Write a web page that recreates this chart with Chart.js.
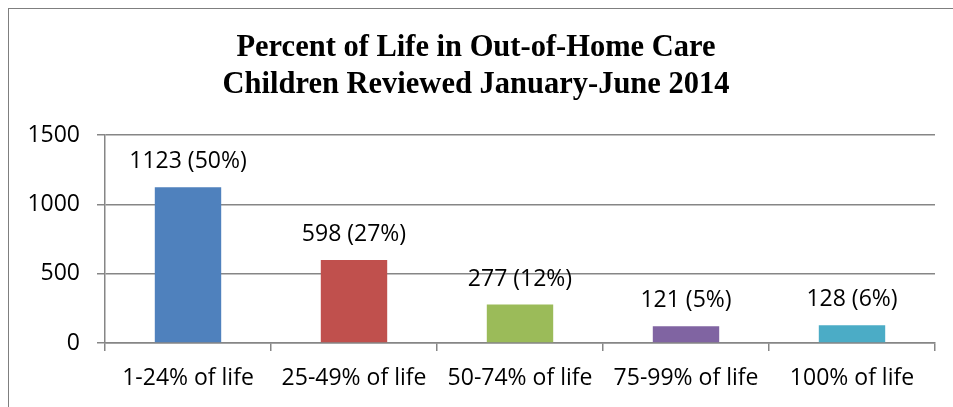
<!DOCTYPE html>
<html>
<head>
<meta charset="utf-8">
<script src="https://cdn.jsdelivr.net/npm/chart.js@4"></script>
<style>
  html, body { margin: 0; padding: 0; background: #fff; overflow: hidden; }
  #wrap { position: relative; width: 953px; height: 407px; }
  #frame { position: absolute; left: 8px; top: 8px; width: 2000px; height: 2000px;
           border-left: 1px solid #7f7f7f; border-top: 1px solid #7f7f7f; pointer-events: none; }
  canvas { position: absolute; left: 0; top: 0; }
</style>
</head>
<body>
<div id="wrap">
  <canvas id="c" width="953" height="407"></canvas>
  <div id="frame"></div>
</div>
<script>
const titleLines = ["Percent of Life in Out-of-Home Care", "Children Reviewed January-June 2014"];
const categories = ["1-24% of life", "25-49% of life", "50-74% of life", "75-99% of life", "100% of life"];
const counts = [1123, 598, 277, 121, 128];
const percents = [50, 27, 12, 5, 6];
const barColors = ["#4F81BD", "#C0504D", "#9BBB59", "#8064A2", "#4BACC6"];
const yTicks = [0, 500, 1000, 1500];

const labelFont = "'Open Sans', sans-serif";
const gray = "#868686";

const dataLabels = {
  id: 'dataLabels',
  afterDatasetsDraw(chart) {
    const ctx = chart.ctx;
    const meta = chart.getDatasetMeta(0);
    ctx.save();
    ctx.font = "23px " + labelFont;
    ctx.fillStyle = "#000";
    ctx.textAlign = "center";
    ctx.textBaseline = "alphabetic";
    meta.data.forEach((bar, i) => {
      ctx.fillText(counts[i] + " (" + percents[i] + "%)", bar.x, bar.y - 19);
    });
    ctx.restore();
  }
};

new Chart(document.getElementById('c'), {
  type: 'bar',
  data: {
    labels: categories,
    datasets: [{
      data: counts,
      backgroundColor: barColors,
      borderWidth: 0,
      categoryPercentage: 1.0,
      barPercentage: 0.4
    }]
  },
  options: {
    responsive: false,
    animation: false,
    devicePixelRatio: 1,
    layout: { padding: { left: 17, right: 18, top: 0, bottom: 0 } },
    plugins: {
      legend: { display: false },
      tooltip: { enabled: false },
      title: {
        display: true,
        text: titleLines,
        color: "#000",
        font: { family: "'Liberation Serif', 'Times New Roman', serif", size: 30.5, weight: 'bold', lineHeight: '37px' },
        padding: { top: 30, bottom: 31 }
      }
    },
    scales: {
      x: {
        grid: { display: true, drawOnChartArea: false, drawTicks: true, tickLength: 8, color: gray, lineWidth: 1.5, offset: true },
        border: { display: true, color: gray, width: 1.5 },
        ticks: { color: "#000", font: { family: labelFont, size: 23 }, padding: 14, maxRotation: 0, autoSkip: false },
        afterFit(scale) { scale.height = 64; }
      },
      y: {
        min: 0, max: 1500,
        afterBuildTicks(scale) { scale.ticks = yTicks.map(v => ({ value: v })); },
        grid: { color: gray, lineWidth: 1.5, tickLength: 8, drawTicks: true },
        border: { display: true, color: gray, width: 1.5 },
        ticks: { color: "#000", font: { family: labelFont, size: 23 }, padding: 17, callback: (v) => String(v) },
        afterFit(scale) { scale.width = 88; }
      }
    }
  },
  plugins: [dataLabels]
});
</script>
</body>
</html>
